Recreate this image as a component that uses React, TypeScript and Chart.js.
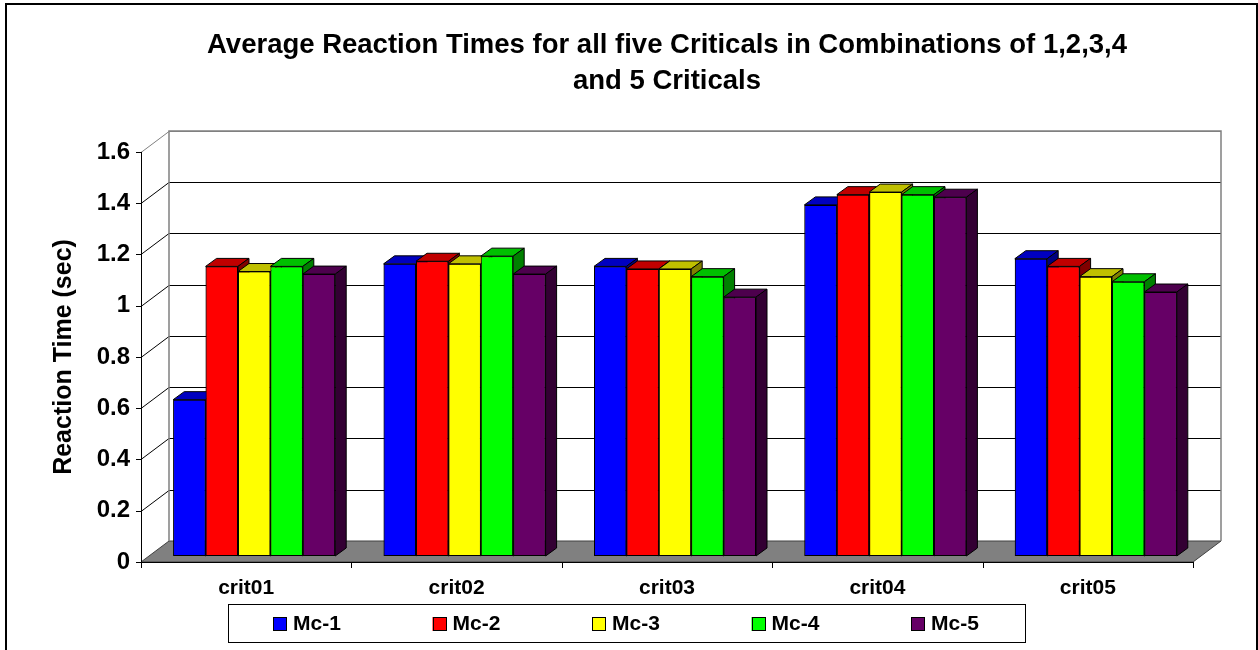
import React, { useEffect, useRef } from "react";
import { Chart, registerables } from "chart.js";
Chart.register(...registerables);

const FONT = "'Liberation Sans', Arial, Helvetica, sans-serif";

const titleLines = [
  "Average Reaction Times for all five Criticals in Combinations of 1,2,3,4",
  "and 5 Criticals",
];
const yAxisTitle = "Reaction Time (sec)";
const categories = ["crit01", "crit02", "crit03", "crit04", "crit05"];
const seriesNames = ["Mc-1", "Mc-2", "Mc-3", "Mc-4", "Mc-5"];

const mc1 = [0.61, 1.14, 1.13, 1.37, 1.16];
const mc2 = [1.13, 1.15, 1.12, 1.41, 1.13];
const mc3 = [1.11, 1.14, 1.12, 1.42, 1.09];
const mc4 = [1.13, 1.17, 1.09, 1.41, 1.07];
const mc5 = [1.1, 1.1, 1.01, 1.4, 1.03];
const seriesValues = [mc1, mc2, mc3, mc4, mc5];

const Y_MIN = 0;
const Y_MAX = 1.6;
const Y_STEP = 0.2;

const faceColors = ["#0000FF", "#FF0000", "#FFFF00", "#00FF00", "#660066"];
const topColors = ["#0000C0", "#C00000", "#C0C000", "#00C000", "#4D004D"];
const sideColors = ["#000080", "#800000", "#808000", "#008000", "#330033"];

// 3D geometry
const WALL_DX = 28;
const WALL_DY = 21;
const BAR_SHIFT_X = 8;
const BAR_SHIFT_Y = 6;
const BAR_DX = 11;
const BAR_DY = 8;

const threeD = {
  id: "threeD",
  beforeDatasetsDraw(chart: any) {
    const { ctx, chartArea: a, scales } = chart;
    const ys = scales.y;
    const xs = scales.x;
    ctx.save();
    // floor
    ctx.fillStyle = "#808080";
    ctx.strokeStyle = "#404040";
    ctx.lineWidth = 1;
    ctx.beginPath();
    ctx.moveTo(a.left, a.bottom);
    ctx.lineTo(a.right, a.bottom);
    ctx.lineTo(a.right + WALL_DX, a.bottom - WALL_DY);
    ctx.lineTo(a.left + WALL_DX, a.bottom - WALL_DY);
    ctx.closePath();
    ctx.fill();
    ctx.stroke();

    // gridlines on back wall and left wall
    const ticks = ys.ticks;
    for (const t of ticks) {
      const py = Math.round(ys.getPixelForValue(t.value)) + 0.5;
      const isTop = Math.abs(t.value - Y_MAX) < 1e-9;
      const isZero = Math.abs(t.value - Y_MIN) < 1e-9;
      if (!isZero) {
        ctx.strokeStyle = isTop ? "#808080" : "#000000";
        ctx.beginPath();
        ctx.moveTo(a.left + WALL_DX, py - WALL_DY);
        ctx.lineTo(a.right + WALL_DX, py - WALL_DY);
        ctx.stroke();
        ctx.beginPath();
        ctx.moveTo(a.left, py);
        ctx.lineTo(a.left + WALL_DX, py - WALL_DY);
        ctx.stroke();
      }
      // tick mark
      ctx.strokeStyle = "#000000";
      ctx.beginPath();
      ctx.moveTo(a.left - 5, py);
      ctx.lineTo(a.left, py);
      ctx.stroke();
    }
    // back wall borders
    ctx.strokeStyle = "#808080";
    ctx.lineWidth = 1.5;
    ctx.beginPath();
    ctx.moveTo(a.left + WALL_DX, a.bottom - WALL_DY);
    ctx.lineTo(a.left + WALL_DX, a.top - WALL_DY);
    ctx.lineTo(a.right + WALL_DX, a.top - WALL_DY);
    ctx.lineTo(a.right + WALL_DX, a.bottom - WALL_DY);
    ctx.stroke();
    // front vertical axis
    ctx.strokeStyle = "#000000";
    ctx.lineWidth = 1;
    ctx.beginPath();
    ctx.moveTo(a.left + 0.5, a.top);
    ctx.lineTo(a.left + 0.5, a.bottom);
    ctx.stroke();
    // x axis
    ctx.beginPath();
    ctx.moveTo(a.left, a.bottom + 0.5);
    ctx.lineTo(a.right, a.bottom + 0.5);
    ctx.stroke();
    const n = categories.length;
    const step = (a.right - a.left) / n;
    for (let k = 0; k <= n; k++) {
      const px =
        k < n
          ? xs.getPixelForValue(k) - step / 2
          : xs.getPixelForValue(n - 1) + step / 2;
      const rx = Math.round(px) + 0.5;
      ctx.beginPath();
      ctx.moveTo(rx, a.bottom);
      ctx.lineTo(rx, a.bottom + 6);
      ctx.stroke();
    }
    ctx.restore();

    ctx.save();
    ctx.translate(BAR_SHIFT_X, -BAR_SHIFT_Y);
  },
  afterDatasetsDraw(chart: any) {
    const { ctx } = chart;
    // redraw bars left-to-right so each bar's front covers its left neighbour's side
    const metas = seriesNames.map((_, i) => chart.getDatasetMeta(i));
    ctx.lineWidth = 1;
    ctx.strokeStyle = "#000000";
    for (let c = 0; c < categories.length; c++) {
      for (let i = 0; i < metas.length; i++) {
        const el = metas[i].data[c];
        if (!el) continue;
        el.draw(ctx, chart.chartArea);
        const p = el.getProps(["x", "y", "width", "base"], true);
        const l = p.x - p.width / 2;
        const r = p.x + p.width / 2;
        const t = Math.min(p.y, p.base);
        const b = Math.max(p.y, p.base);
        ctx.save();
        ctx.lineWidth = 1;
        ctx.strokeStyle = "#000000";
        ctx.fillStyle = topColors[i];
        ctx.beginPath();
        ctx.moveTo(l, t);
        ctx.lineTo(l + BAR_DX, t - BAR_DY);
        ctx.lineTo(r + BAR_DX, t - BAR_DY);
        ctx.lineTo(r, t);
        ctx.closePath();
        ctx.fill();
        ctx.stroke();
        ctx.fillStyle = sideColors[i];
        ctx.beginPath();
        ctx.moveTo(r, t);
        ctx.lineTo(r + BAR_DX, t - BAR_DY);
        ctx.lineTo(r + BAR_DX, b - BAR_DY);
        ctx.lineTo(r, b);
        ctx.closePath();
        ctx.fill();
        ctx.stroke();
        ctx.restore();
      }
    }
    ctx.restore();
  },
  afterDraw(chart: any) {
    const { ctx } = chart;
    ctx.save();
    // legend box
    ctx.strokeStyle = "#000000";
    ctx.lineWidth = 1;
    ctx.strokeRect(228.5, 604.5, 797, 38);
    const ds = chart.data.datasets;
    ctx.font = `bold 21px ${FONT}`;
    ctx.textBaseline = "middle";
    ctx.textAlign = "left";
    for (let k = 0; k < ds.length; k++) {
      const x0 = 273 + k * 159.5;
      ctx.fillStyle = ds[k].backgroundColor;
      ctx.fillRect(x0, 617, 14, 14);
      ctx.strokeRect(Math.round(x0) + 0.5, 617.5, 13, 13);
      ctx.fillStyle = "#000000";
      ctx.fillText(ds[k].label, x0 + 20, 624.5);
    }
    // outer border
    ctx.lineWidth = 2;
    ctx.strokeRect(6, 4, 1251, 700);
    ctx.restore();
  },
};

export default function App() {
  const ref = useRef<HTMLCanvasElement>(null);
  useEffect(() => {
    document.body.style.margin = "0";
    const chart = new Chart(ref.current as HTMLCanvasElement, {
      type: "bar",
      data: {
        labels: categories,
        datasets: seriesNames.map((name, i) => ({
          label: name,
          data: seriesValues[i],
          backgroundColor: faceColors[i],
          borderColor: "#000000",
          borderWidth: 1,
          borderSkipped: false,
          categoryPercentage: 0.77,
          barPercentage: 1,
          clip: false,
        })),
      },
      options: {
        responsive: false,
        animation: false,
        devicePixelRatio: 1,
        events: [],
        layout: { padding: { left: 0, right: 65, top: 0, bottom: 48 } },
        plugins: {
          legend: { display: false },
          tooltip: { enabled: false },
          title: {
            display: true,
            text: titleLines,
            fullSize: false,
            color: "#000000",
            font: { family: FONT, size: 27.5, weight: "bold", lineHeight: 1.33 },
            padding: { top: 27, bottom: 51.8 },
          },
        },
        scales: {
          x: {
            type: "category",
            offset: true,
            grid: { display: false, drawTicks: false },
            border: { display: false },
            ticks: {
              color: "#000000",
              font: { family: FONT, size: 21, weight: "bold" },
              padding: 14,
              maxRotation: 0,
              autoSkip: false,
            },
            afterFit: (s: any) => {
              s.height = 40;
            },
          },
          y: {
            min: Y_MIN,
            max: Y_MAX,
            grid: { display: false, drawTicks: false },
            border: { display: false },
            ticks: {
              stepSize: Y_STEP,
              padding: 11,
              color: "#000000",
              font: { family: FONT, size: 24, weight: "bold" },
              callback: (v: any) => String(Number(Number(v).toFixed(1))),
            },
            title: {
              display: true,
              text: yAxisTitle,
              color: "#000000",
              font: { family: FONT, size: 25, weight: "bold", lineHeight: 1.2 },
              padding: { top: 49, bottom: 0 },
            },
            afterFit: (s: any) => {
              s.width = 141;
            },
          },
        },
      },
      plugins: [threeD],
    } as any);
    return () => chart.destroy();
  }, []);
  return (
    <canvas
      ref={ref}
      width={1258}
      height={650}
      style={{ display: "block", width: 1258, height: 650 }}
    />
  );
}
